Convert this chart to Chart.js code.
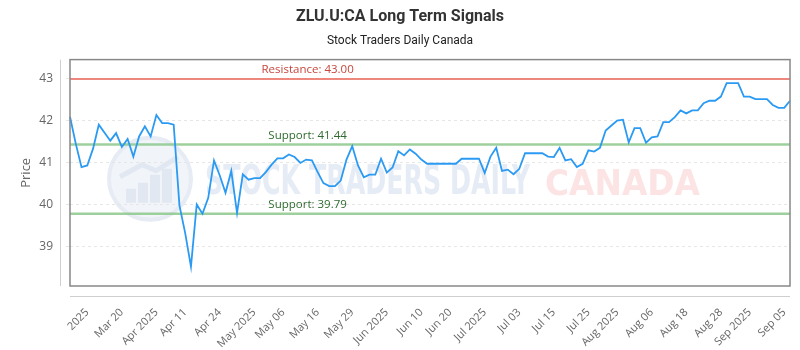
<!DOCTYPE html>
<html>
<head>
<meta charset="utf-8">
<script src="https://cdn.jsdelivr.net/npm/chart.js@4"></script>
<style>
    html, body { margin: 0; padding: 0; background: #fff; }
    #wrap { width: 800px; height: 350px; }
</style>
</head>
<body>
<div id="wrap"><canvas id="signalChart" width="800" height="350"></canvas></div>
<script>
// Closing prices
const prices = [
    42.10, 41.46, 40.90, 40.94, 41.34, 41.91, 41.72, 41.53, 41.71, 41.38,
    41.57, 41.15, 41.63, 41.87, 41.63, 42.14, 41.95, 41.95, 41.91, 39.99,
    39.33, 38.53, 40.01, 39.79, 40.17, 41.06, 40.70, 40.29, 40.81, 39.81,
    40.73, 40.60, 40.64, 40.64, 40.78, 40.96, 41.11, 41.11, 41.20, 41.14,
    41.00, 41.08, 41.06, 40.78, 40.52, 40.45, 40.45, 40.58, 41.08, 41.40,
    40.94, 40.66, 40.72, 40.72, 41.10, 40.77, 40.89, 41.28, 41.18, 41.32,
    41.22, 41.08, 40.98, 40.98, 40.98, 40.98, 40.98, 40.98, 41.10, 41.10,
    41.10, 41.10, 40.76, 41.15, 41.36, 40.81, 40.84, 40.73, 40.86, 41.23,
    41.23, 41.23, 41.23, 41.15, 41.14, 41.36, 41.06, 41.09, 40.90, 40.98,
    41.30, 41.27, 41.36, 41.77, 41.89, 42.01, 42.03, 41.49, 41.83, 41.83,
    41.48, 41.61, 41.63, 41.97, 41.97, 42.09, 42.25, 42.18, 42.25, 42.25,
    42.42, 42.48, 42.48, 42.58, 42.90, 42.90, 42.90, 42.58, 42.58, 42.52,
    42.52, 42.52, 42.38, 42.31, 42.31, 42.48
];

// x axis labels and the point they sit under
const tickLabels = ['2025', 'Mar 20', 'Apr 2025', 'Apr 11', 'Apr 24', 'May 2025', 'May 06', 'May 16',
    'May 29', 'Jun 2025', 'Jun 10', 'Jun 20', 'Jul 2025', 'Jul 03', 'Jul 15', 'Jul 25',
    'Aug 2025', 'Aug 06', 'Aug 18', 'Aug 28', 'Sep 2025', 'Sep 05'];
const tickIndex = [3, 9, 15, 20, 26, 32, 37, 43, 49, 55, 61, 66, 72, 78, 84, 90, 95, 101, 107, 113, 118, 124];

const yRange = [38.07, 43.46];

// signal levels
const levels = [43.00, 41.44, 39.79];
const levelNames = ['Resistance', 'Support', 'Support'];

const categories = prices.map((_, i) => {
    const k = tickIndex.indexOf(i);
    return k >= 0 ? tickLabels[k] : '';
});

// draw text squeezed to a given width
function fitText(ctx, text, x, y, width) {
    const w = ctx.measureText(text).width;
    ctx.save();
    ctx.translate(x, y);
    ctx.scale(width / w, 1);
    ctx.fillText(text, 0, 0);
    ctx.restore();
}

const decorations = {
    id: 'decorations',
    beforeDraw(chart) {
        // faint watermark
        const { ctx, chartArea: a } = chart;
        const cx = a.left + 80;
        const cy = (a.top + a.bottom) / 2 + 6;
        ctx.save();
        ctx.beginPath();
        ctx.arc(cx, cy, 41, 0, Math.PI * 2);
        ctx.fillStyle = '#f1f4f9';
        ctx.fill();
        ctx.lineWidth = 4;
        ctx.strokeStyle = '#e6ebf4';
        ctx.stroke();
        ctx.fillStyle = '#e2e8f2';
        [[-24, 14], [-12, 20], [0, 28], [12, 34]].forEach(([dx, h]) => {
            ctx.fillRect(cx + dx, cy + 24 - h, 10, h);
        });
        ctx.beginPath();
        ctx.moveTo(cx - 30, cy - 2);
        ctx.lineTo(cx - 8, cy - 14);
        ctx.lineTo(cx + 6, cy - 8);
        ctx.lineTo(cx + 28, cy - 22);
        ctx.lineWidth = 5;
        ctx.strokeStyle = '#e2e8f2';
        ctx.stroke();
        ctx.textBaseline = 'alphabetic';
        ctx.font = 'bold 40px "DejaVu Sans Condensed"';
        ctx.fillStyle = '#e6ecf5';
        fitText(ctx, 'STOCK TRADERS DAILY', a.left + 135, cy + 15, 325);
        ctx.font = 'bold 36px "DejaVu Sans"';
        ctx.fillStyle = '#fde4e4';
        fitText(ctx, 'CANADA', a.left + 475, cy + 16, 155);
        ctx.restore();
    },
    beforeDatasetsDraw(chart) {
        const { ctx, chartArea: a, scales: { y } } = chart;
        ctx.save();
        levels.forEach((v, i) => {
            const py = y.getPixelForValue(v);
            const res = levelNames[i] === 'Resistance';
            ctx.beginPath();
            ctx.moveTo(a.left, py);
            ctx.lineTo(a.right, py);
            ctx.lineWidth = res ? 2 : 2.5;
            ctx.strokeStyle = res ? 'rgba(236,122,112,0.9)' : 'rgba(140,200,140,0.85)';
            ctx.stroke();
            ctx.font = '11.5px "Open Sans"';
            ctx.textAlign = 'center';
            ctx.textBaseline = 'middle';
            ctx.fillStyle = res ? '#c8463c' : '#2f6b2f';
            ctx.fillText(levelNames[i] + ': ' + v.toFixed(2), a.left + a.width * 0.33, py - 9);
        });
        ctx.restore();
    },
    afterDraw(chart) {
        const { ctx, chartArea: a } = chart;
        ctx.save();
        ctx.lineWidth = 1.5;
        ctx.strokeStyle = '#888';
        ctx.strokeRect(a.left, a.top, a.width, a.height);
        ctx.lineWidth = 1;
        ctx.strokeStyle = '#cfcfcf';
        ctx.beginPath();
        ctx.moveTo(a.left - 10 + 0.5, a.top);
        ctx.lineTo(a.left - 10 + 0.5, a.bottom);
        ctx.moveTo(a.left, a.bottom + 10 + 0.5);
        ctx.lineTo(a.right, a.bottom + 10 + 0.5);
        ctx.stroke();
        ctx.restore();
    }
};

new Chart(document.getElementById('signalChart'), {
    type: 'line',
    data: {
        labels: categories,
        datasets: [{
            label: 'ZLU.U:CA',
            data: prices,
            borderColor: '#2b9af3',
            borderWidth: 1.8,
            pointRadius: 0,
            tension: 0,
            fill: false
        }]
    },
    options: {
        responsive: false,
        devicePixelRatio: 1,
        animation: false,
        layout: { padding: { left: 10, right: 10, bottom: 0 } },
        plugins: {
            legend: { display: false },
            tooltip: { enabled: false },
            title: {
                display: true,
                text: 'ZLU.U:CA Long Term Signals',
                color: '#333',
                font: { family: 'Roboto', size: 16, weight: 'bold' },
                padding: { top: 7, bottom: 8 }
            },
            subtitle: {
                display: true,
                text: 'Stock Traders Daily Canada',
                color: '#222',
                font: { family: 'Roboto', size: 12 },
                padding: { top: 0, bottom: 11 }
            }
        },
        scales: {
            x: {
                type: 'category',
                grid: { display: false },
                border: { display: false },
                ticks: {
                    autoSkip: false,
                    minRotation: 45,
                    maxRotation: 45,
                    padding: 12,
                    color: '#666',
                    font: { family: '"Open Sans"', size: 11 }
                },
                afterFit(scale) {
                    scale.height = 64;
                    scale.paddingLeft = 0;
                    scale.paddingRight = 0;
                }
            },
            y: {
                min: yRange[0],
                max: yRange[1],
                grid: { color: '#e6e6e6', tickLength: 4 },
                border: { display: false, dash: [3, 3] },
                ticks: {
                    stepSize: 1,
                    padding: 13,
                    color: '#666',
                    font: { family: '"Open Sans"', size: 12 }
                },
                title: {
                    display: true,
                    text: 'Price',
                    color: '#666',
                    font: { family: '"Open Sans"', size: 13 },
                    padding: { top: 8, bottom: 0 }
                },
                afterBuildTicks(scale) {
                    scale.ticks = scale.ticks.filter(t => Number.isInteger(t.value));
                },
                afterFit(scale) {
                    scale.width = 60;
                    scale.paddingTop = 0;
                    scale.paddingBottom = 0;
                }
            }
        }
    },
    plugins: [decorations]
});
</script>
</body>
</html>
